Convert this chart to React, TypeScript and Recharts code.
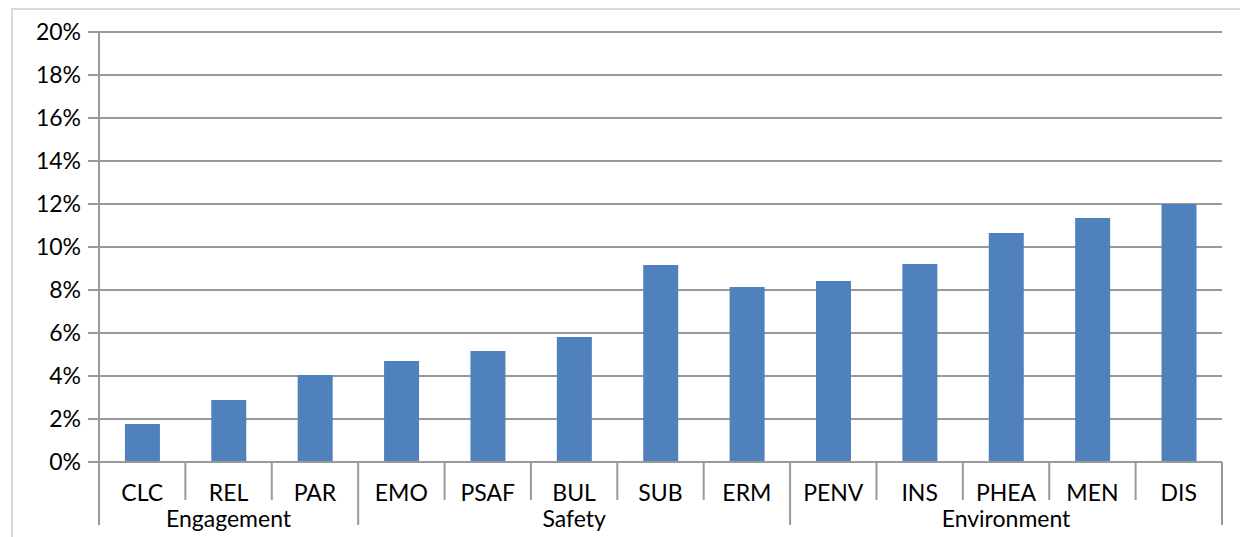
import React from 'react';
import { BarChart, Bar, XAxis, YAxis, CartesianGrid } from 'recharts';

const categories = ['CLC', 'REL', 'PAR', 'EMO', 'PSAF', 'BUL', 'SUB', 'ERM', 'PENV', 'INS', 'PHEA', 'MEN', 'DIS'];
const values = [1.77, 2.88, 4.05, 4.7, 5.16, 5.81, 9.16, 8.14, 8.42, 9.21, 10.65, 11.35, 12.0];
const groupNames = ['Engagement', 'Safety', 'Environment'];
const groupSizes = [3, 5, 5];
const yTicks = [0, 2, 4, 6, 8, 10, 12, 14, 16, 18, 20];

const data = categories.map((name, i) => ({ name, value: values[i] }));

// which category starts a group, and which one carries the group label
const groupStarts: number[] = [];
const groupLabelAt: Record<number, string> = {};
let pos = 0;
groupSizes.forEach((size, g) => {
  groupStarts.push(pos);
  groupLabelAt[pos + Math.floor(size / 2)] = groupNames[g];
  pos += size;
});

const WIDTH = 1240;
const HEIGHT = 537;
const MARGIN = { top: 32, right: 18, bottom: 0, left: 0 };
const YAXIS_W = 99;
const BAND = (WIDTH - MARGIN.right - MARGIN.left - YAXIS_W) / categories.length;
const FONT = 'Lato, "DejaVu Sans", sans-serif';
const FS = 23;
const LINE = '#999';

const CategoryTick = (props: any) => {
  const { x, y, payload, index } = props;
  const left = x - BAND / 2;
  const isStart = groupStarts.includes(index);
  const isLast = index === categories.length - 1;
  return (
    <g>
      <line x1={left} x2={left} y1={y} y2={y + (isStart ? 63 : 38)} stroke={LINE} strokeWidth={2} />
      {isLast && <line x1={left + BAND} x2={left + BAND} y1={y} y2={y + 63} stroke={LINE} strokeWidth={2} />}
      <text x={x} y={y + 30} textAnchor="middle" dominantBaseline="central" fontSize={FS} fill="#000" fontFamily={FONT}>
        {payload.value}
      </text>
      {groupLabelAt[index] && (
        <text x={x} y={y + 56} textAnchor="middle" dominantBaseline="central" fontSize={FS} fill="#000" fontFamily={FONT}>
          {groupLabelAt[index]}
        </text>
      )}
    </g>
  );
};

export default function App() {
  return (
    <div style={{ position: 'absolute', left: 0, top: 0, width: WIDTH, height: HEIGHT, overflow: 'hidden', background: '#fff' }}>
      <div style={{ position: 'absolute', left: 11, top: 8, width: 1300, height: 700, border: '2px solid #d9d9d9' }} />
      <div style={{ position: 'absolute', left: 0, top: 0 }}>
        <BarChart width={WIDTH} height={HEIGHT} data={data} margin={MARGIN} barCategoryGap="30%">
          <CartesianGrid vertical={false} stroke={LINE} strokeWidth={2} />
          <XAxis
            dataKey="name"
            interval={0}
            height={75}
            tickSize={0}
            tickMargin={0}
            tickLine={false}
            axisLine={{ stroke: LINE, strokeWidth: 2 }}
            tick={<CategoryTick />}
          />
          <YAxis
            width={YAXIS_W}
            domain={[0, 20]}
            ticks={yTicks}
            interval={0}
            tickFormatter={(v: number) => `${v}%`}
            tickSize={11}
            tickMargin={7}
            tickLine={{ stroke: LINE, strokeWidth: 2 }}
            axisLine={{ stroke: LINE, strokeWidth: 2 }}
            tick={{ fill: '#000', fontSize: FS, fontFamily: FONT }}
          />
          <Bar dataKey="value" fill="#4F81BD" isAnimationActive={false} />
        </BarChart>
      </div>
    </div>
  );
}
